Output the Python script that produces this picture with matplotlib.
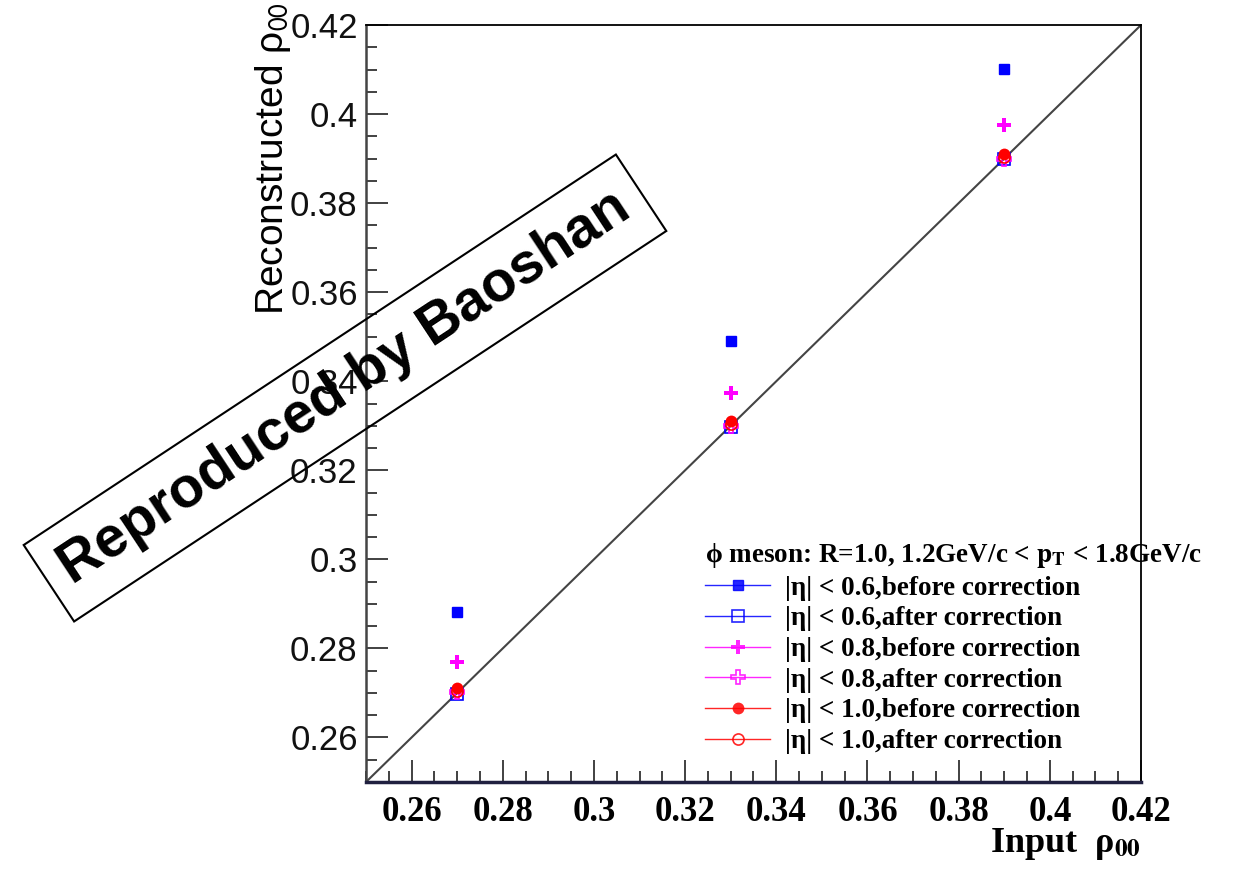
import matplotlib
matplotlib.use("Agg")
import matplotlib.pyplot as plt
from matplotlib.lines import Line2D
from matplotlib.ticker import MultipleLocator, FormatStrFormatter

plt.rcParams['mathtext.fontset'] = 'stix'

# input rho00 and reconstructed values
input_rho = [0.27, 0.33, 0.39]
eta06_before = [0.2882, 0.3491, 0.4101]
eta06_after = [0.2698, 0.3297, 0.3899]
eta08_before = [0.2769, 0.3374, 0.3975]
eta08_after = [0.2701, 0.3300, 0.3900]
eta10_before = [0.2711, 0.3311, 0.3911]
eta10_after = [0.2704, 0.3303, 0.3904]

labels = ["|η| < 0.6,before correction", "|η| < 0.6,after correction",
          "|η| < 0.8,before correction", "|η| < 0.8,after correction",
          "|η| < 1.0,before correction", "|η| < 1.0,after correction"]

fig = plt.figure(figsize=(12.46, 8.76), dpi=100)
ax = fig.add_axes([366/1246, 1-782/876, 775/1246, 757/876])

# diagonal y = x
ax.plot([0.25, 0.42], [0.25, 0.42], color="#444444", lw=1.5, zorder=1)

styles = [
    (eta06_before, dict(marker='s', color='blue', mfc='blue', ms=7.5)),
    (eta06_after, dict(marker='s', color='blue', mfc='none', ms=8.5, mew=1.2)),
    (eta08_before, dict(marker='P', color='magenta', mfc='magenta', ms=10.5, mew=0)),
    (eta08_after, dict(marker='P', color='magenta', mfc='none', ms=10.5, mew=1.2)),
    (eta10_before, dict(marker='o', color='red', mfc='red', ms=8.5, mew=0)),
    (eta10_after, dict(marker='o', color='red', mfc='none', ms=8, mew=1.2)),
]
handles = []
for vals, st in styles:
    ax.plot(input_rho, vals, linestyle='none', zorder=3, **st)
    handles.append(Line2D([], [], lw=1.0, alpha=0.85, **st))

ax.set_xlim(0.25, 0.42)
ax.set_ylim(0.25, 0.42)
ax.xaxis.set_major_locator(MultipleLocator(0.02))
ax.xaxis.set_minor_locator(MultipleLocator(0.005))
ax.yaxis.set_major_locator(MultipleLocator(0.02))
ax.yaxis.set_minor_locator(MultipleLocator(0.005))
ax.xaxis.set_major_formatter(FormatStrFormatter('%g'))
ax.yaxis.set_major_formatter(FormatStrFormatter('%g'))

ax.tick_params(which='both', direction='in', color='#333333', width=1.3,
               top=False, right=False)
ax.tick_params(which='major', length=16)
ax.tick_params(which='minor', length=8)
ax.tick_params(axis='x', pad=10)
ax.tick_params(axis='y', pad=6)
for t in ax.get_xticklabels():
    t.set_fontfamily('Liberation Serif')
    t.set_fontweight('bold')
    t.set_fontsize(25)
for t in ax.get_yticklabels():
    t.set_fontfamily('Liberation Sans')
    t.set_fontsize(25)
    t.set_color('#111111')

ax.spines['left'].set_color('#444444')
ax.spines['left'].set_linewidth(1.8)
ax.spines['bottom'].set_color('#202040')
ax.spines['bottom'].set_linewidth(2.5)
ax.spines['top'].set_linewidth(1.3)
ax.spines['right'].set_linewidth(1.3)

ax.set_xlabel(r"Input  ρ$_{\mathbf{00}}$", loc='right', fontsize=26,
              fontweight='bold', family='Liberation Serif')
ax.xaxis.set_label_coords(1.0, -0.058)
ax.set_ylabel(r"Reconstructed ρ$_{\mathsf{00}}$", loc='top', fontsize=28,
              family='Liberation Sans')
ax.yaxis.set_label_coords(-0.094, 1.03)

leg = ax.legend(handles, labels, loc='upper left',
                bbox_to_anchor=(705/1246, 1-541/876), bbox_transform=fig.transFigure,
                frameon=False, handlelength=2.4, handletextpad=0.55,
                labelspacing=0.21, borderaxespad=0, borderpad=0,
                title=r"ϕ meson: R=1.0, 1.2GeV/c < $\mathbf{p_{T}}$ < 1.8GeV/c",
                alignment='left',
                prop={'family': 'Liberation Serif', 'weight': 'bold', 'size': 19.5},
                title_fontproperties={'family': ['Liberation Serif', 'DejaVu Serif'],
                                      'weight': 'bold', 'size': 19.5})

# watermark box
fig.text(345/1246, 1-388/876, "Reproduced by Baoshan", rotation=33.4,
         rotation_mode='anchor', ha='center', va='center',
         fontsize=41, fontweight='bold', family='Liberation Sans',
         bbox=dict(boxstyle='square,pad=0.33', fc='none', ec='black', lw=1.5),
         zorder=10)

fig.savefig("out.png", dpi=100)
